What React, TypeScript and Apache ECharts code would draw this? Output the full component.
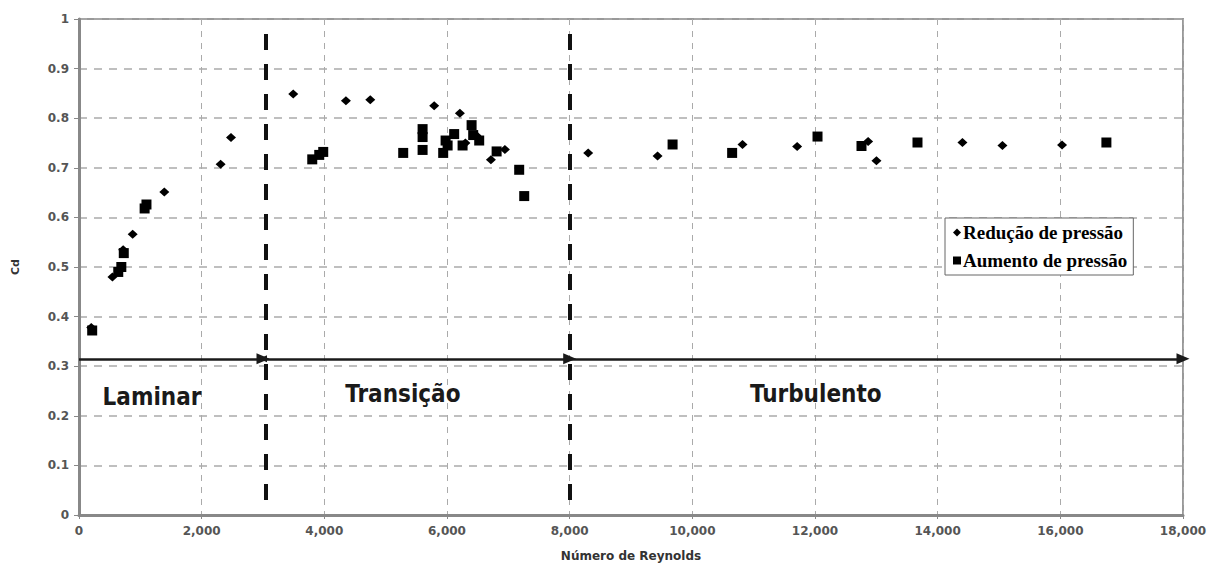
import { useEffect, useRef } from "react";
import * as echarts from "echarts";

// Cd versus Reynolds number, pressure-reduction runs (diamonds)
const reducaoPressao: [number, number][] = [
  [200, 0.378], [545, 0.48], [720, 0.535], [875, 0.566], [1391, 0.651],
  [2309, 0.707], [2478, 0.761], [3493, 0.849], [4352, 0.835], [4749, 0.837],
  [5791, 0.825], [6210, 0.81], [6300, 0.75], [6480, 0.765], [6716, 0.716],
  [6944, 0.737], [8302, 0.73], [9433, 0.724], [10818, 0.747], [11709, 0.743],
  [12866, 0.753], [13002, 0.714], [14404, 0.751], [15056, 0.745], [16028, 0.746],
];

// Cd versus Reynolds number, pressure-increase runs (squares)
const aumentoPressao: [number, number][] = [
  [215, 0.372], [640, 0.49], [690, 0.5], [730, 0.528], [1070, 0.618],
  [1100, 0.626], [3803, 0.717], [3917, 0.726], [3982, 0.732], [5286, 0.73],
  [5602, 0.778], [5602, 0.762], [5602, 0.736], [5938, 0.73], [5977, 0.755],
  [6010, 0.745], [6117, 0.768], [6254, 0.745], [6401, 0.786], [6427, 0.766],
  [6525, 0.755], [6809, 0.733], [7177, 0.696], [7259, 0.643], [9678, 0.747],
  [10649, 0.73], [12041, 0.763], [12758, 0.744], [13671, 0.751], [16751, 0.751],
];

// Flow regime boundaries and the arrow drawn across them
const fluxoY = 0.315;
const limitesArrow = [0, 3000, 8000, 18000];
const limitesTracejados = [3040, 8000];
const tracejadoY: [number, number] = [0.03, 0.99];

const regimes = [
  { nome: "Laminar", x: 1190, y: 0.238 },
  { nome: "Transição", x: 5281, y: 0.244 },
  { nome: "Turbulento", x: 12013, y: 0.244 },
];

const xMin = 0;
const xMax = 18000;
const xInterval = 2000;
const yMin = 0;
const yMax = 1;
const yInterval = 0.1;

const tickFont = { color: "#555", fontWeight: "bold" as const, fontFamily: "DejaVu Sans", fontSize: 12 };

export default function App() {
  const ref = useRef<HTMLDivElement>(null);

  useEffect(() => {
    const chart = echarts.init(ref.current!, null, { renderer: "svg" });

    const arrowSegments = limitesArrow.slice(0, -1).map((x0, i) => [
      { coord: [x0, fluxoY], symbol: i === 1 ? "triangle" : "none", symbolSize: [7, 8] },
      { coord: [limitesArrow[i + 1], fluxoY], symbol: "triangle", symbolSize: [11, 13] },
    ]);

    const dashedBounds = limitesTracejados.map((x) => [
      { coord: [x, tracejadoY[0]], symbol: "none" },
      { coord: [x, tracejadoY[1]], symbol: "none" },
    ]);

    chart.setOption({
      animation: false,
      backgroundColor: "#fff",
      grid: {
        left: 79,
        right: 36,
        top: 19,
        bottom: 53,
        show: true,
        borderColor: "#999",
        borderWidth: 2,
      },
      legend: {
        orient: "vertical",
        left: 945,
        top: 218,
        padding: [5, 6, 5, 8],
        itemGap: 9,
        itemWidth: 8,
        itemHeight: 8,
        borderColor: "#666",
        borderWidth: 1,
        backgroundColor: "#fff",
        textStyle: {
          color: "#000",
          fontFamily: "Liberation Serif",
          fontWeight: "bold",
          fontSize: 19,
          padding: [0, 0, 0, -3],
        },
        data: [
          { name: "Redução de pressão", icon: "diamond" },
          { name: "Aumento de pressão", icon: "rect" },
        ],
      },
      xAxis: {
        type: "value",
        min: xMin,
        max: xMax,
        interval: xInterval,
        name: "Número de Reynolds",
        nameLocation: "middle",
        nameGap: 35,
        nameTextStyle: { color: "#333", fontWeight: "bold", fontFamily: "DejaVu Sans", fontSize: 12 },
        axisLine: { lineStyle: { color: "#888", width: 3 } },
        axisTick: { show: true, length: 4, lineStyle: { color: "#888", width: 1 } },
        axisLabel: {
          ...tickFont,
          margin: 10,
          formatter: (v: number) => v.toLocaleString("en-US"),
        },
        splitLine: { show: true, lineStyle: { color: "#aaa", type: [6, 6], width: 1 } },
      },
      yAxis: {
        type: "value",
        min: yMin,
        max: yMax,
        interval: yInterval,
        name: "Cd",
        nameLocation: "middle",
        nameGap: 58,
        nameRotate: 90,
        nameTextStyle: { color: "#333", fontWeight: "bold", fontFamily: "DejaVu Sans", fontSize: 11 },
        axisLine: { show: true, lineStyle: { color: "#888", width: 3 } },
        axisTick: { show: true, length: 5, lineStyle: { color: "#888", width: 1 } },
        axisLabel: { ...tickFont, margin: 10, formatter: (v: number) => String(Math.round(v * 10) / 10) },
        splitLine: { show: true, lineStyle: { color: "#aaa", type: [8, 7], width: 1.5 } },
      },
      series: [
        {
          name: "Redução de pressão",
          type: "scatter",
          data: reducaoPressao,
          symbol: "diamond",
          symbolSize: [10, 9],
          itemStyle: { color: "#000", opacity: 1 },
          z: 5,
        },
        {
          name: "Aumento de pressão",
          type: "scatter",
          data: aumentoPressao,
          symbol: "rect",
          symbolSize: 10,
          itemStyle: { color: "#000", opacity: 1 },
          z: 4,
        },
        {
          name: "regimes",
          type: "line",
          data: [],
          silent: true,
          markLine: {
            silent: true,
            animation: false,
            label: { show: false },
            lineStyle: { color: "#1a1a1a", width: 2.5, type: "solid" },
            data: arrowSegments,
          },
        },
        {
          name: "limites",
          type: "line",
          data: [],
          silent: true,
          markLine: {
            silent: true,
            animation: false,
            label: { show: false },
            lineStyle: { color: "#111", width: 4, type: [16, 14] },
            data: dashedBounds,
          },
        },
      ],
    });

    // Regime names, positioned through the grid's scales
    const textos = regimes.map((r) => {
      const [px, py] = chart.convertToPixel({ gridIndex: 0 }, [r.x, r.y]) as number[];
      return {
        type: "text",
        x: px,
        y: py,
        silent: true,
        style: {
          text: r.nome,
          fill: "#1a1a1a",
          fontFamily: "DejaVu Sans Condensed, DejaVu Sans",
          fontWeight: "bold",
          fontSize: 24,
          align: "center",
          verticalAlign: "middle",
        },
      };
    });
    chart.setOption({ graphic: textos });

    return () => chart.dispose();
  }, []);

  return (
    <div
      ref={ref}
      style={{ position: "absolute", left: 0, top: 0, width: 1219, height: 568, background: "#fff" }}
    />
  );
}
